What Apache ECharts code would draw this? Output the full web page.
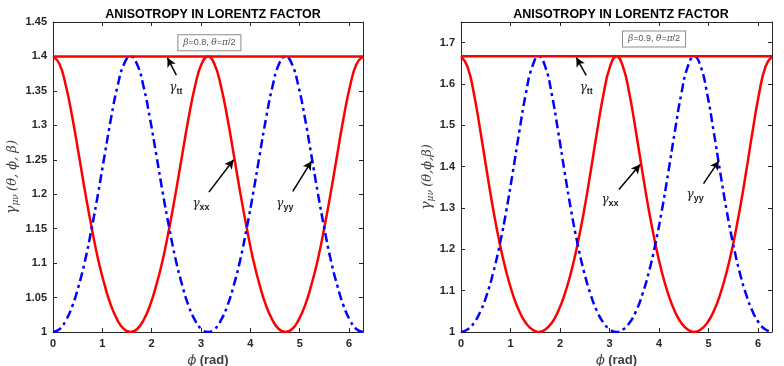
<!DOCTYPE html>
<html>
<head>
<meta charset="utf-8">
<script src="https://cdn.jsdelivr.net/npm/echarts@6/dist/echarts.min.js"></script>
<style>
html,body{margin:0;padding:0;background:#fff;}
#main{width:784px;height:366px;}
</style>
</head>
<body>
<div id="main"></div>
<script>
// phi (rad), 7.5 deg steps
var phi = [0,0.131,0.262,0.393,0.524,0.654,0.785,0.916,1.047,1.178,1.309,1.440,1.571,
	1.702,1.833,1.963,2.094,2.225,2.356,2.487,2.618,2.749,2.880,3.011,3.142,
	3.272,3.403,3.534,3.665,3.796,3.927,4.058,4.189,4.320,4.451,4.581,4.712,
	4.843,4.974,5.105,5.236,5.367,5.498,5.629,5.760,5.890,6.021,6.152,6.283];

// beta=0.8 panel
var ttLeft = 1.4;
var xxLeft = [1.400,1.389,1.357,1.311,1.257,1.202,1.151,1.105,1.068,1.038,1.017,1.004,1.000,
	1.004,1.017,1.038,1.068,1.105,1.151,1.202,1.257,1.311,1.357,1.389,1.400,
	1.389,1.357,1.311,1.257,1.202,1.151,1.105,1.068,1.038,1.017,1.004,1.000,
	1.004,1.017,1.038,1.068,1.105,1.151,1.202,1.257,1.311,1.357,1.389,1.400];
var yyLeft = [1.000,1.004,1.017,1.038,1.068,1.105,1.151,1.202,1.257,1.311,1.357,1.389,1.400,
	1.389,1.357,1.311,1.257,1.202,1.151,1.105,1.068,1.038,1.017,1.004,1.000,
	1.004,1.017,1.038,1.068,1.105,1.151,1.202,1.257,1.311,1.357,1.389,1.400,
	1.389,1.357,1.311,1.257,1.202,1.151,1.105,1.068,1.038,1.017,1.004,1.000];

// beta=0.9 panel
var ttRight = 1.667;
var xxRight = [1.667,1.642,1.576,1.485,1.387,1.294,1.213,1.145,1.091,1.050,1.022,1.006,1.000,
	1.006,1.022,1.050,1.091,1.145,1.213,1.294,1.387,1.485,1.576,1.642,1.667,
	1.642,1.576,1.485,1.387,1.294,1.213,1.145,1.091,1.050,1.022,1.006,1.000,
	1.006,1.022,1.050,1.091,1.145,1.213,1.294,1.387,1.485,1.576,1.642,1.667];
var yyRight = [1.000,1.006,1.022,1.050,1.091,1.145,1.213,1.294,1.387,1.485,1.576,1.642,1.667,
	1.642,1.576,1.485,1.387,1.294,1.213,1.145,1.091,1.050,1.022,1.006,1.000,
	1.006,1.022,1.050,1.091,1.145,1.213,1.294,1.387,1.485,1.576,1.642,1.667,
	1.642,1.576,1.485,1.387,1.294,1.213,1.145,1.091,1.050,1.022,1.006,1.000];

var phiMax = 6.2832;
var ink = '#262626';
var font = 'Liberation Sans, Arial, sans-serif';
var serif = 'DejaVu Serif, Liberation Serif, serif';

function pairs(ys){
	var out = [];
	for(var i=0;i<phi.length;i++){ out.push([phi[i], ys[i]]); }
	return out;
}

var gammaRich = {
	g:{fontFamily:serif, fontStyle:'italic', fontSize:12, color:'#222', lineHeight:18},
	s:{fontFamily:font, fontWeight:'bold', fontSize:9, color:'#222', padding:[7,0,0,0]}
};

function xAxes(gi){
	return [{
		gridIndex:gi, type:'value', min:0, max:phiMax, interval:1,
		axisLine:{show:true, onZero:false, lineStyle:{color:ink, width:1}},
		axisTick:{inside:true, length:4, lineStyle:{color:ink}},
		axisLabel:{color:ink, fontWeight:'bold', fontSize:11, fontFamily:font, margin:6, showMaxLabel:false},
		splitLine:{show:false},
		name:'{p|ϕ} {r|(rad)}', nameLocation:'middle', nameGap:22,
		nameTextStyle:{rich:{
			p:{fontFamily:serif, fontStyle:'italic', fontSize:13, color:'#404040'},
			r:{fontFamily:font, fontWeight:'bold', fontSize:13, color:'#404040'}
		}}
	},{
		gridIndex:gi, type:'value', position:'top', min:0, max:phiMax, interval:1,
		axisLine:{show:true, onZero:false, lineStyle:{color:ink, width:1}},
		axisTick:{inside:true, length:4, lineStyle:{color:ink}},
		axisLabel:{show:false}, splitLine:{show:false}
	}];
}

function yAxes(gi, max, step, gap, args){
	return [{
		gridIndex:gi, type:'value', min:1, max:max, interval:step,
		axisLine:{show:true, onZero:false, lineStyle:{color:ink, width:1}},
		axisTick:{inside:true, length:4, lineStyle:{color:ink}},
		axisLabel:{color:ink, fontWeight:'bold', fontSize:11, fontFamily:font, margin:6,
			formatter:function(v){ return Math.abs(v/step - Math.round(v/step)) < 1e-6 ? String(+v.toFixed(2)) : ''; }},
		splitLine:{show:false},
		name:'{g|γ}{s|μν} {t|' + args + '}', nameLocation:'middle', nameGap:gap,
		nameTextStyle:{rich:{
			g:{fontFamily:serif, fontStyle:'italic', fontSize:14, color:'#404040'},
			s:{fontFamily:serif, fontStyle:'italic', fontSize:9, color:'#404040', padding:[6,0,0,0]},
			t:{fontFamily:serif, fontStyle:'italic', fontSize:13, color:'#404040'}
		}}
	},{
		gridIndex:gi, type:'value', position:'right', min:1, max:max, interval:step,
		axisLine:{show:true, onZero:false, lineStyle:{color:ink, width:1}},
		axisTick:{inside:true, length:4, lineStyle:{color:ink}},
		axisLabel:{show:false}, splitLine:{show:false}
	}];
}

function panel(axisIdx, tt, xx, yy, beta, notes){
	var arrowStyle = {color:'#000', width:1.5, type:'solid'};
	return [{
		name:'tt', type:'line', xAxisIndex:axisIdx, yAxisIndex:axisIdx,
		data:[[0,tt],[phiMax,tt]], symbol:'none',
		lineStyle:{color:'#ff0000', width:2.5}, z:3,
		markLine:{
			silent:true, symbol:['none','arrow'], symbolSize:[7,9],
			lineStyle:arrowStyle, label:{show:false},
			data:notes.arrows.map(function(a){ return [{coord:a[0]},{coord:a[1]}]; })
		},
		markPoint:{
			silent:true, symbol:'circle', symbolSize:0,
			data:[
				{coord:notes.tt, label:{show:true, formatter:'{g|γ}{s|tt}', rich:gammaRich}},
				{coord:notes.xx, label:{show:true, formatter:'{g|γ}{s|xx}', rich:gammaRich}},
				{coord:notes.yy, label:{show:true, formatter:'{g|γ}{s|yy}', rich:gammaRich}},
				{coord:notes.box, label:{show:true,
					formatter:'{i|β}{n|=' + beta + ', }{i|θ}{n|=}{i|π}{n|/2}',
					backgroundColor:'#fff', borderColor:'#8c8c8c', borderWidth:1, padding:[3,5],
					rich:{
						i:{fontFamily:serif, fontStyle:'italic', fontSize:9, color:'#555'},
						n:{fontFamily:font, fontSize:9, color:'#555'}
					}}}
			]
		}
	},{
		name:'xx', type:'line', xAxisIndex:axisIdx, yAxisIndex:axisIdx,
		data:pairs(xx), symbol:'none', smooth:true,
		lineStyle:{color:'#ff0000', width:2.5}, z:2
	},{
		name:'yy', type:'line', xAxisIndex:axisIdx, yAxisIndex:axisIdx,
		data:pairs(yy), symbol:'none', smooth:true,
		lineStyle:{color:'#0000ff', width:2.5, type:[9,4,3,4]}, z:2
	}];
}

var notesLeft = {
	arrows:[
		[[2.50,1.373],[2.32,1.398]],
		[[3.16,1.203],[3.66,1.250]],
		[[4.86,1.204],[5.24,1.248]]
	],
	tt:[2.49,1.354], xx:[3.00,1.186], yy:[4.70,1.186], box:[3.17,1.42]
};
var notesRight = {
	arrows:[
		[[2.53,1.621],[2.33,1.664]],
		[[3.19,1.345],[3.62,1.405]],
		[[4.90,1.359],[5.21,1.414]]
	],
	tt:[2.53,1.590], xx:[3.01,1.319], yy:[4.73,1.331], box:[3.90,1.709]
};

var myChart = echarts.init(document.getElementById('main'));
var option = {
	animation:false,
	backgroundColor:'#fff',
	title:[
		{text:'ANISOTROPY IN LORENTZ FACTOR', left:208, top:3, textAlign:'center',
			textStyle:{fontFamily:font, fontWeight:'bold', fontSize:12.5, color:'#000'}},
		{text:'ANISOTROPY IN LORENTZ FACTOR', left:616, top:3, textAlign:'center',
			textStyle:{fontFamily:font, fontWeight:'bold', fontSize:12.5, color:'#000'}}
	],
	grid:[
		{left:53, top:22, width:310, height:310, outerBoundsMode:'none', containLabel:false},
		{left:461, top:22, width:311, height:310, outerBoundsMode:'none', containLabel:false}
	],
	xAxis:xAxes(0).concat(xAxes(1)),
	yAxis:yAxes(0, 1.45, 0.05, 33, '(θ, ϕ, β)').concat(yAxes(1, 1.75, 0.1, 26, '(θ,ϕ,β)')),
	series:panel(0, ttLeft, xxLeft, yyLeft, '0.8', notesLeft)
		.concat(panel(2, ttRight, xxRight, yyRight, '0.9', notesRight))
};
// axes 0/1 belong to grid 0, axes 2/3 to grid 1
myChart.setOption(option);
</script>
</body>
</html>
